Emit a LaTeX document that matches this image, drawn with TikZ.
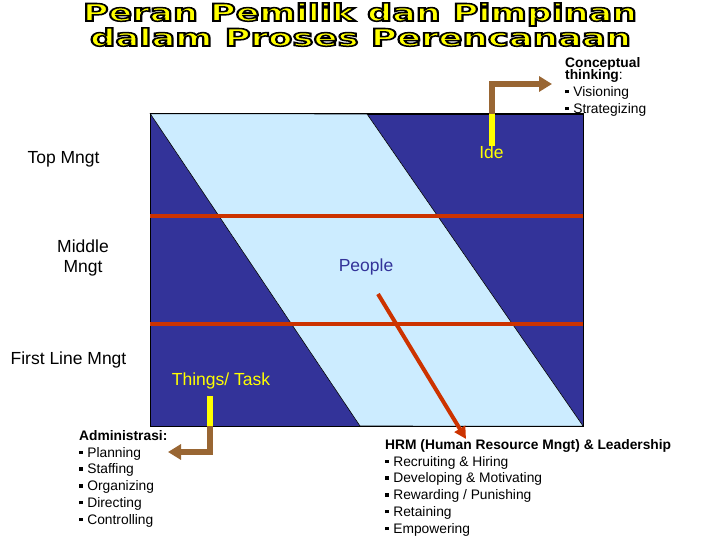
\documentclass[tikz,border=0pt]{standalone}
\usepackage{fontspec}
\setmainfont{Liberation Sans}
\newfontfamily\titlefont{DejaVu Sans}
\usetikzlibrary{arrows.meta}

\definecolor{darkband}{RGB}{51,51,153}
\definecolor{lightband}{RGB}{204,236,255}
\definecolor{levelred}{RGB}{204,51,0}
\definecolor{arrowbrown}{RGB}{153,102,51}
\definecolor{labelyellow}{RGB}{255,255,0}

\newcommand\titleline[2]{\resizebox{#1}{\height}{\titlefont\bfseries\fontsize{24}{28}\selectfont
  \special{pdf:literal direct 0 0 0 RG 2 Tr 1.5 w}#2\special{pdf:literal direct 0 Tr}}}
\newcommand\sqitem{\rule[0.22em]{0.24em}{0.24em}\hspace{0.35em}}

\begin{document}
\begin{tikzpicture}[x=1pt, y=-1pt,
        titletext/.style={anchor=base, inner sep=0, text=labelyellow},
        leveltxt/.style={inner sep=0, align=center, font=\fontsize{17.5}{20}\selectfont},
        bandtxt/.style={inner sep=0, font=\fontsize{17.5}{20}\selectfont},
        listtxt/.style={anchor=north west, inner sep=0, align=left, font=\fontsize{13.8}{16.8}\selectfont},
        levelline/.style={levelred, line width=4pt},
        barpart/.style={labelyellow, line width=6pt},
        bentarrow/.style={arrowbrown, line width=6pt, -{Triangle[length=13pt, width=15pt]}},
        redarrow/.style={levelred, line width=4pt, -{Triangle[length=12pt, width=12pt]}}
      ]
      \useasboundingbox (0,0) rectangle (720,540);

      \node[titletext] (title1) at (360,21) {\titleline{554pt}{Peran Pemilik dan Pimpinan}};
      \node[titletext] (title2) at (360.5,46) {\titleline{541pt}{dalam Proses Perencanaan}};

      \node[draw=black, fill=darkband, minimum width=432.5pt, minimum height=312pt, inner sep=0] (frame) at (366.75,270) {};
      \coordinate (bandtop) at (367,114);
      \coordinate (bandbottom) at (360,426);
      \filldraw[fill=lightband, draw=black, line width=0.6pt] (frame.north west) -- (bandtop) -- (frame.south east) -- (bandbottom) -- cycle;
      \draw[line width=0.8pt] (frame.north west) rectangle (frame.south east);

      \coordinate (lineone) at (0,216);
      \coordinate (linetwo) at (0,324);
      \draw[levelline] (frame.west |- lineone) -- (frame.east |- lineone);
      \draw[levelline] (frame.west |- linetwo) -- (frame.east |- linetwo);

      \node[leveltxt] (top) at (63.5,159) {Top Mngt};
      \node[leveltxt] (middle) at (83,258) {Middle\\Mngt};
      \node[leveltxt] (first) at (68.5,360) {First Line Mngt};

      \node[bandtxt, text=labelyellow] (ide) at (491.5,152.5) {Ide};
      \node[bandtxt, text=darkband] (people) at (366,267) {People};
      \node[bandtxt, text=labelyellow] (things) at (221,381) {Things/ Task};

      \node[listtxt] (concept) at (565,57) {\textbf{Conceptual}\\[-4.5pt]\textbf{thinking}:\\\sqitem Visioning\\\sqitem Strategizing};
      \node[listtxt] (admin) at (79,430) {\textbf{Administrasi:}\\\sqitem Planning\\\sqitem Staffing\\\sqitem Organizing\\\sqitem Directing\\\sqitem Controlling};
      \node[listtxt] (hrm) at (385,439) {\textbf{HRM (Human Resource Mngt) \& Leadership}\\\sqitem Recruiting \& Hiring\\\sqitem Developing \& Motivating\\\sqitem Rewarding / Punishing\\\sqitem Retaining\\\sqitem Empowering};

      \draw[barpart] (ide.north) -- (ide.north |- frame.north);
      \draw[bentarrow] (ide.north |- frame.north) |- ([xshift=-13pt]concept.west |- 0,84);

      \coordinate (thingsbar) at (210,396);
      \coordinate (plantip) at (168,452);
      \draw[barpart] (thingsbar) -- (thingsbar |- frame.south);
      \draw[bentarrow] (thingsbar |- frame.south) |- (plantip);

      \coordinate (peopletail) at (378,294);
      \draw[redarrow] (peopletail) -- ([xshift=81pt]hrm.north west);
    \end{tikzpicture}
\end{document}
